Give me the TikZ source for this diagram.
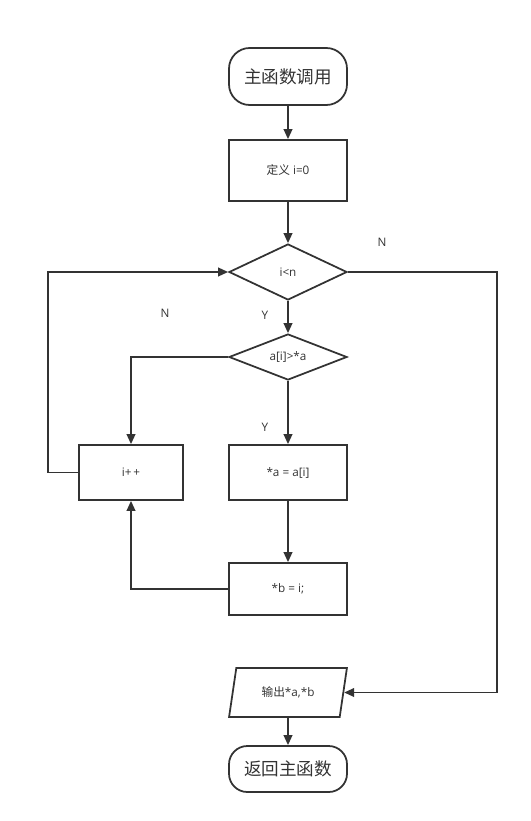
\documentclass[tikz,border=0pt]{standalone}
\usepackage{fontspec}
\setmainfont{Open Sans}
\newfontfamily\cjk{Noto Sans CJK SC}
\usepackage{tikz}
\usetikzlibrary{shapes.geometric}
\usetikzlibrary{arrows.meta}
\definecolor{ink}{HTML}{333333}

\tikzset{
    box/.style={draw=ink, line width=1.5pt, minimum width=3.54cm, inner sep=0pt, font=\fontsize{10}{12}\selectfont, text=ink},
    term/.style={box, rounded corners=0.62cm, font=\cjk\fontsize{15}{18}\selectfont},
    cond/.style={box, diamond, aspect=2},
    io/.style={box, trapezium, trapezium left angle=72, trapezium right angle=108, trapezium stretches=true},
    arr/.style={draw=ink, line width=1.5pt, -{Triangle[length=0.3cm, width=0.26cm]}},
    lbl/.style={text=ink, font=\fontsize{10}{12}\selectfont}
}

\begin{document}
\begin{tikzpicture}[x=0.03cm, y=-0.03cm]
    \useasboundingbox (0,0) rectangle (530,821);

    \node [term, minimum height=1.71cm] (start) at (288,76.5) {主函数调用};
    \node [box, minimum height=1.83cm] (init) at (288,170.5) {{\cjk 定义} i=0};
    \node [cond, minimum width=3.54cm, minimum height=1.68cm] (loop) at (288,272) {i<n};
    \node [cond, minimum width=3.54cm, minimum height=1.38cm] (cmp) at (288,357) {a[i]>*a};
    \node [box, minimum width=3.12cm, minimum height=1.65cm] (inc) at (131,472.5) {i+\,+};
    \node [box, minimum height=1.65cm] (seta) at (288,472.5) {*a = a[i]};
    \node [box, minimum height=1.56cm] (setb) at (288,589) {*b = i;};
    \node [io, minimum height=1.47cm] (out) at (288,692.5) {{\cjk 输出}*a,*b};
    \node [term, minimum height=1.38cm, rounded corners=0.55cm] (ret) at (288,769) {返回主函数};

    \coordinate (rt) at (497,272);
    \coordinate (lt) at (48,272);

    \draw [arr] (start) -- (init);
    \draw [arr] (init) -- (loop);
    \draw [arr] (loop) -- (cmp);
    \draw [arr] (cmp) -- (seta);
    \draw [arr] (cmp.west) -| (inc.north);
    \draw [arr] (seta) -- (setb);
    \draw [arr] (setb.west) -| (inc.south);
    \draw [arr] (inc.west) -| (lt) -- (loop.west);
    \draw [arr] (loop.east) -- (rt) |- (out.east);
    \draw [arr] (out) -- (ret);

    \node [lbl] (n1) at (382,242) {N};
    \node [lbl] (y1) at (265,315) {Y};
    \node [lbl] (n2) at (165,313) {N};
    \node [lbl] (y2) at (265,427) {Y};
\end{tikzpicture}
\end{document}
